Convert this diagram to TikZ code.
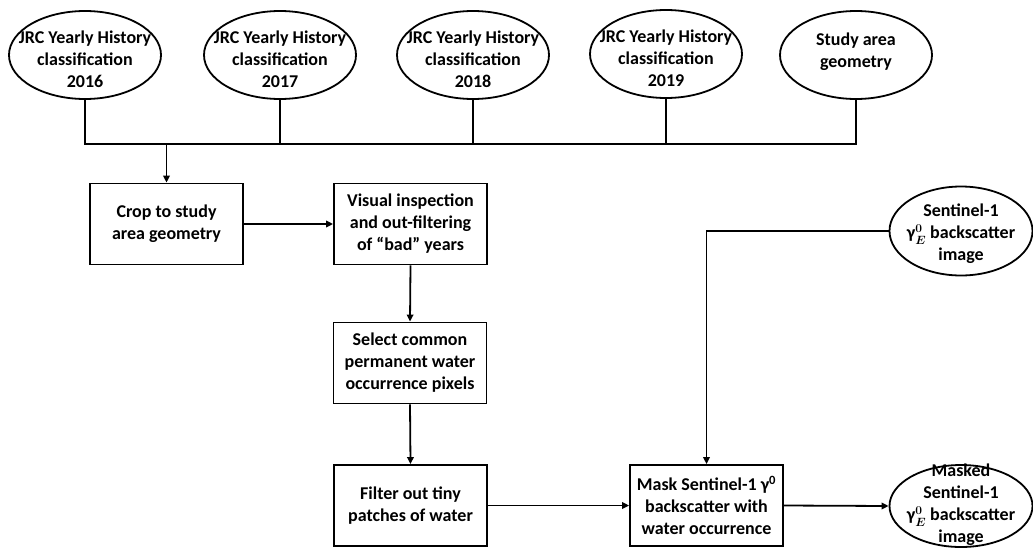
\documentclass[tikz,border=0pt]{standalone}
\usepackage{fontspec}
\setmainfont{Carlito}
\usetikzlibrary{arrows.meta,shapes.geometric}
\newcommand{\gamE}{γ{\boldmath$^{0}_{E}$}}
\begin{document}
\begin{tikzpicture}[x=1pt,y=-1pt,
  lbl/.style={align=center,font=\fontsize{18}{22}\selectfont\bfseries,inner sep=0pt},
  oval/.style={draw,ellipse,line width=1.8pt,minimum width=152pt,minimum height=88pt,inner sep=0pt},
  stepbox/.style={draw,rectangle,line width=1.8pt,minimum width=153pt,minimum height=81pt,align=center,font=\fontsize{18}{22}\selectfont\bfseries,inner sep=0pt},
  conn/.style={line width=1.8pt},
  arr/.style={conn,-{Triangle[length=7pt,width=6.5pt]}}]
\useasboundingbox (0,0) rectangle (1033,549);
% top ellipses
\node (e16) [oval] at (85,55) {};
\node (t16) [lbl] at (85,59) {JRC Yearly History\\classification\\2016};
\node (e17) [oval] at (280,55) {};
\node (t17) [lbl] at (280,59) {JRC Yearly History\\classification\\2017};
\node (e18) [oval] at (473,55) {};
\node (t18) [lbl] at (473,59) {JRC Yearly History\\classification\\2018};
\node (e19) [oval] at (666,54) {};
\node (t19) [lbl] at (666,58) {JRC Yearly History\\classification\\2019};
\node (study) [oval] at (856,55) {};
\node (tstudy) [lbl] at (856,52) {Study area\\geometry};
% process boxes
\node (crop) [stepbox] at (166.5,224) {Crop to study\\area geometry};
\node (visual) [stepbox] at (410.5,224) {Visual inspection\\and out-filtering\\of “bad” years};
\node (select) [stepbox] at (410,363) {Select common\\permanent water\\occurrence pixels};
\node (filter) [stepbox] at (410.5,505.5) {Filter out tiny\\patches of water};
\node (mask) [stepbox] at (706.5,505.5) {Mask Sentinel-1 γ\textsuperscript{0}\\backscatter with\\water occurrence};
% right ellipses
\node (sent) [oval,minimum width=143pt,minimum height=89pt] at (961,231) {};
\node (tsent) [lbl] at (961,234) {Sentinel-1\\\gamE{} backscatter\\image};
\node (masked) [oval,minimum width=143pt,minimum height=82pt] at (961,506) {};
\node (tmasked) [lbl] at (961,505) {Masked\\Sentinel-1\\\gamE{} backscatter\\image};
% bus
\coordinate (busL) at (85,144);
\coordinate (busR) at (856,144);
\draw[conn] (e16.south) -- (busL) -- (busR) -- (study.south);
\draw[conn] (e17.south) -- (e17.south |- busL);
\draw[conn] (e18.south) -- (e18.south |- busL);
\draw[conn] (e19.south) -- (e19.south |- busL);
\draw[arr] (crop.north |- busL) -- (crop.north);
% flow
\draw[arr] (crop.east) -- (visual.west);
\draw[arr] (visual.south) -- (select.north);
\draw[arr] (select.south) -- (filter.north);
\draw[arr] (filter.east) -- (mask.west);
\draw[arr] (mask.east) -- (masked.west);
\draw[arr] (sent.west) -| (mask.north);
\end{tikzpicture}
\end{document}
